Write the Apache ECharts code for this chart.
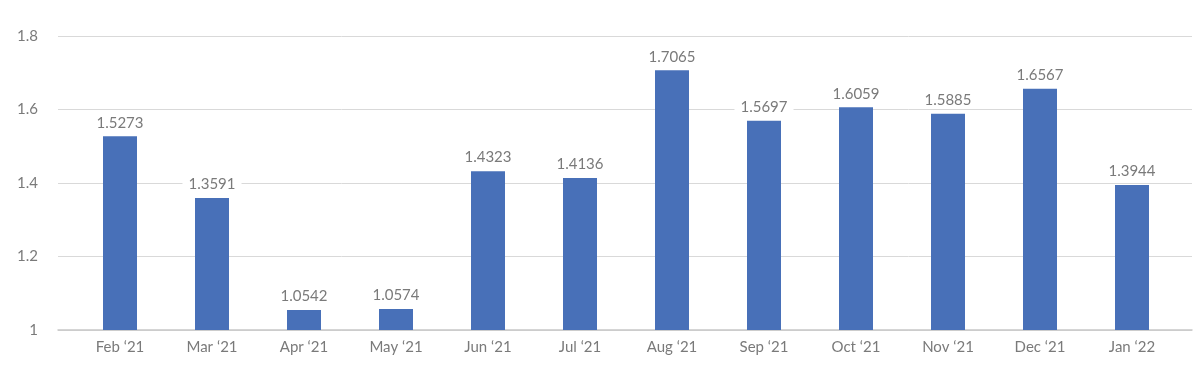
<!DOCTYPE html>
<html>
<head>
<meta charset="utf-8">
<script src="https://cdn.jsdelivr.net/npm/echarts@6/dist/echarts.min.js"></script>
<style>html,body{margin:0;padding:0;background:#fff;}#c{width:1200px;height:373px;}</style>
</head>
<body>
<div id="c"></div>
<script>
const categories = ['Feb \u201821','Mar \u201821','Apr \u201821','May \u201821','Jun \u201821','Jul \u201821','Aug \u201821','Sep \u201821','Oct \u201821','Nov \u201821','Dec \u201821','Jan \u201822'];
const values = [1.5273, 1.3591, 1.0542, 1.0574, 1.4323, 1.4136, 1.7065, 1.5697, 1.6059, 1.5885, 1.6567, 1.3944];
const yTicks = [1, 1.2, 1.4, 1.6, 1.8];

const textColor = '#7a7a7a';
const font = 'Lato';
const chart = echarts.init(document.getElementById('c'));
chart.setOption({
  animation: false,
  grid: [
    {left: 58, right: 8, top: 36, bottom: 43},
    {left: 74, right: 22, top: 36, bottom: 43}
  ],
  xAxis: [
    {gridIndex: 0, type: 'category', data: categories, axisLabel: {show: false}, axisTick: {show: false},
     axisLine: {show: true, lineStyle: {color: '#c8c8c8', width: 1.5}}, splitLine: {show: false}},
    {gridIndex: 1, type: 'category', data: categories, axisTick: {show: false}, axisLine: {show: false},
     axisLabel: {color: textColor, fontFamily: font, fontSize: 15, margin: 10}}
  ],
  yAxis: [
    {gridIndex: 0, type: 'value', min: yTicks[0], max: yTicks[yTicks.length-1], interval: 0.2,
     axisLine: {show: false}, axisTick: {show: false},
     axisLabel: {color: textColor, fontFamily: font, fontSize: 15, margin: 20,
       formatter: v => { const t = yTicks.find(x => Math.abs(x - v) < 1e-9); return t === undefined ? '' : String(t); }},
     splitLine: {lineStyle: {color: '#d9d9d9', width: 1}}},
    {gridIndex: 1, type: 'value', min: yTicks[0], max: yTicks[yTicks.length-1], interval: 0.2,
     axisLine: {show: false}, axisTick: {show: false}, axisLabel: {show: false}, splitLine: {show: false}}
  ],
  series: [{
    type: 'bar', xAxisIndex: 1, yAxisIndex: 1, data: values, barWidth: 34,
    itemStyle: {color: '#4870B8'},
    label: {show: true, position: 'top', distance: 5, color: textColor, fontFamily: font, fontSize: 15,
      backgroundColor: '#ffffff', padding: [1, 6, 1, 6], formatter: p => p.value.toFixed(4)}
  }]
});
</script>
</body>
</html>
